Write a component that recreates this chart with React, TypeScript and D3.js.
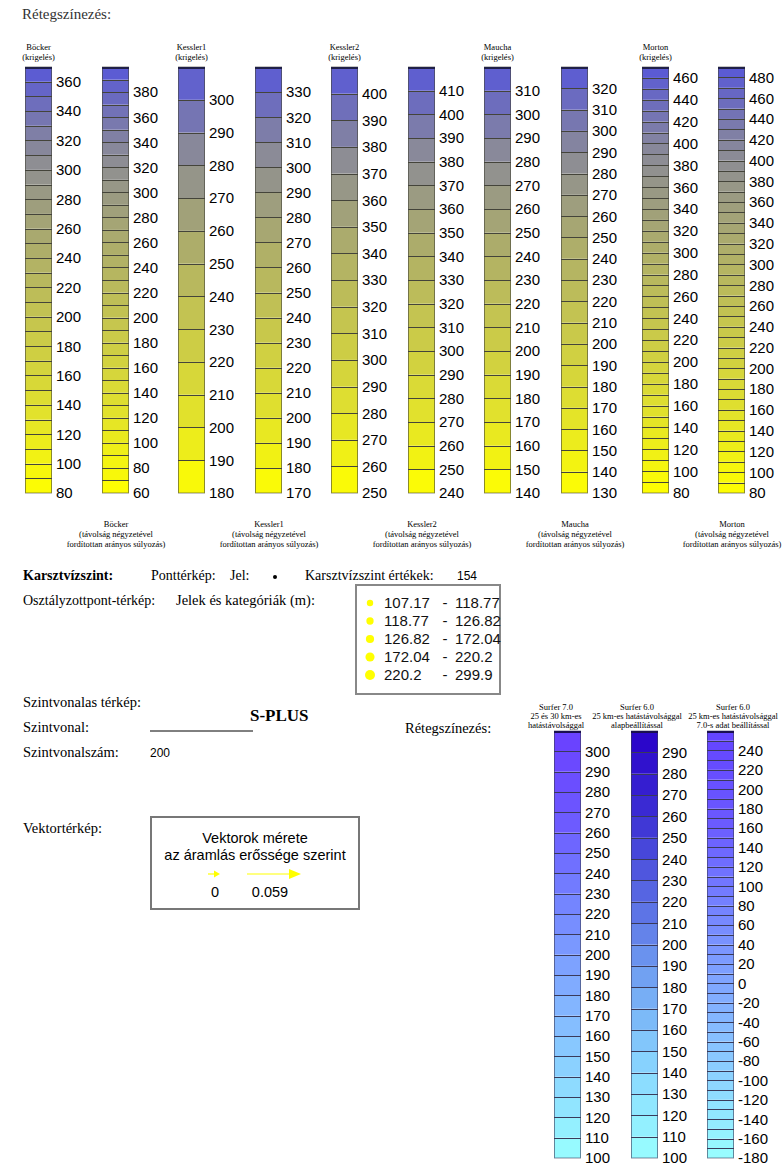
import React from "react";
import * as d3 from "d3";

// ---- Data ----
const topNames = ["Böcker", "Kessler1", "Kessler2", "Maucha", "Morton"];
const krigMin = [80, 180, 250, 140, 80];
const krigMax = [370, 310, 410, 320, 470];
const krigLabelMax = [360, 300, 400, 310, 460];
const krigLabelStep = [20, 10, 10, 10, 20];
const idwMin = [60, 170, 240, 130, 80];
const idwMax = [400, 340, 420, 330, 490];
const idwLabelMax = [380, 330, 410, 320, 480];
const idwLabelStep = [20, 10, 10, 10, 20];
const bandStep = 10;

const surferTitles = [
  ["Surfer 7.0", "25 és 30 km-es", "hatástávolsággal"],
  ["Surfer 6.0", "25 km-es hatástávolsággal", "alapbeállítással"],
  ["Surfer 6.0", "25 km-es hatástávolsággal", "7.0-s adat beállítással"],
];
const surferMin = [100, 100, -180];
const surferMax = [310, 300, 260];
const surferLabelMax = [300, 290, 240];
const surferLabelStep = [10, 10, 20];

const classRanges = [
  ["107.17", "118.77"],
  ["118.77", "126.82"],
  ["126.82", "172.04"],
  ["172.04", "220.2"],
  ["220.2", "299.9"],
];
const vectorValues = ["0", "0.059"];

// ---- Colors ----
const topColors = d3.piecewise(d3.interpolateRgb, ["#ffff00", "#e0e02e", "#c6c64e", "#aaaa6e", "#8a8a98", "#5858d8"]);
const surferColors = [
  d3.piecewise(d3.interpolateRgb, ["#99ffff", "#8cd4ff", "#80acff", "#7484ff", "#6c58ff", "#6a40ff"]),
  d3.piecewise(d3.interpolateRgb, ["#99ffff", "#8ad8ff", "#74a8f4", "#5a6ce4", "#3c30d4", "#2800c8"]),
  d3.piecewise(d3.interpolateRgb, ["#99ffff", "#8cd0ff", "#80a8ff", "#7480ff", "#6a58ff", "#6444ff"]),
];

const SERIF = "'Liberation Serif', 'Times New Roman', serif";
const SANS = "'Liberation Sans', Arial, sans-serif";

type BarProps = {
  x: number; top: number; bottom: number; min: number; max: number;
  labelMax: number; labelStep: number; color: (t: number) => string; lineColor: string; edge: string;
};

function ColorBar({ x, top, bottom, min, max, labelMax, labelStep, color, lineColor, edge }: BarProps) {
  const w = 27;
  const y = d3.scaleLinear().domain([min, max]).range([bottom, top]);
  const bands = d3.range(min, max, bandStep);
  const labels = d3.range(min, labelMax + 0.001, labelStep);
  return (
    <g>
      {bands.map((v) => (
        <rect key={"b" + v} x={x} y={y(v + bandStep)} width={w} height={y(v) - y(v + bandStep)}
          fill={color((v + bandStep / 2 - min) / (max - min))} />
      ))}
      {bands.slice(1).map((v) => (
        <line key={"l" + v} x1={x} x2={x + w} y1={Math.round(y(v)) + 0.5} y2={Math.round(y(v)) + 0.5}
          stroke={lineColor} strokeWidth={1} />
      ))}
      <rect x={x + 0.5} y={top} width={w - 1} height={bottom - top} fill="none" stroke={lineColor} strokeWidth={1} strokeOpacity={0.6} />
      <line x1={x} x2={x + w} y1={top + 1} y2={top + 1} stroke={edge} strokeWidth={2} />
      {labels.map((v) => (
        <text key={"t" + v} x={x + w + 4} y={y(v)} dy="0.36em" fontFamily={SANS} fontSize={15} fill="#000">
          {v}
        </text>
      ))}
    </g>
  );
}

function Lines({ x, y, lines, size, lh }: { x: number; y: number; lines: string[]; size: number; lh: number }) {
  return (
    <text x={x} y={y} textAnchor="middle" fontFamily={SERIF} fontSize={size} fill="#000">
      {lines.map((l, i) => (
        <tspan key={i} x={x} dy={i === 0 ? 0 : lh}>{l}</tspan>
      ))}
    </text>
  );
}

export default function App() {
  const topX = [25, 102, 178, 255, 331, 408, 484, 561, 642, 718];
  const surferX = [554, 631, 707];
  const surferTitleX = [556, 637, 733];
  const ptsY = d3.scaleBand().domain(classRanges.map((_, i) => String(i))).range([594, 684]);
  const dotR = d3.scaleLinear().domain([0, classRanges.length - 1]).range([3.2, 5]);

  return (
    <svg width={783} height={1175} style={{ position: "absolute", left: 0, top: 0, background: "#fff" }}>
      <text x={22} y={19} fontFamily={SERIF} fontSize={15} fill="#333">Rétegszínezés:</text>

      {topNames.map((name, i) => (
        <g key={name}>
          <Lines x={topX[2 * i] + 13.5} y={50} lines={[name, "(krigelés)"]} size={8.5} lh={9.5} />
          <ColorBar x={topX[2 * i]} top={67} bottom={493} min={krigMin[i]} max={krigMax[i]}
            labelMax={krigLabelMax[i]} labelStep={krigLabelStep[i]} color={topColors} lineColor="#44443a" edge="#202048" />
          <ColorBar x={topX[2 * i + 1]} top={67} bottom={493} min={idwMin[i]} max={idwMax[i]}
            labelMax={idwLabelMax[i]} labelStep={idwLabelStep[i]} color={topColors} lineColor="#44443a" edge="#202048" />
          <Lines x={topX[2 * i + 1] + 14} y={527} lines={[name, "(távolság négyzetével", "fordítottan arányos súlyozás)"]} size={8.5} lh={10} />
        </g>
      ))}

      {/* Karsztvízszint */}
      <text x={23} y={580} fontFamily={SERIF} fontSize={14} fontWeight="bold">Karsztvízszint:</text>
      <text x={151} y={580} fontFamily={SERIF} fontSize={14}>Ponttérkép:</text>
      <text x={230} y={580} fontFamily={SERIF} fontSize={14}>Jel:</text>
      <circle cx={275} cy={577} r={2} fill="#000" />
      <text x={305} y={580} fontFamily={SERIF} fontSize={14}>Karsztvízszint értékek:</text>
      <text x={457} y={580} fontFamily={SANS} fontSize={12}>154</text>
      <text x={23} y={605} fontFamily={SERIF} fontSize={14}>Osztályzottpont-térkép:</text>
      <text x={176} y={605} fontFamily={SERIF} fontSize={14.5}>Jelek és kategóriák (m):</text>

      <rect x={356} y={585} width={144} height={109} fill="#fff" stroke="#888" strokeWidth={2} />
      {classRanges.map((r, i) => {
        const cy = (ptsY(String(i)) as number) + ptsY.bandwidth() / 2;
        return (
          <g key={i} fontFamily={SANS} fontSize={15} fill="#111">
            <circle cx={370} cy={cy} r={dotR(i)} fill="#ffff00" />
            <text x={384} y={cy} dy="0.36em">{r[0]}</text>
            <text x={445} y={cy} dy="0.36em" textAnchor="middle">-</text>
            <text x={455} y={cy} dy="0.36em">{r[1]}</text>
          </g>
        );
      })}

      {/* Szintvonalas */}
      <text x={23} y={707} fontFamily={SERIF} fontSize={14.5}>Szintvonalas térkép:</text>
      <text x={23} y={732} fontFamily={SERIF} fontSize={14.5}>Szintvonal:</text>
      <line x1={150} x2={253} y1={731} y2={731} stroke="#000" strokeWidth={1} />
      <text x={250} y={721} fontFamily={SERIF} fontSize={17} fontWeight="bold">S-PLUS</text>
      <text x={23} y={757} fontFamily={SERIF} fontSize={14.5}>Szintvonalszám:</text>
      <text x={150} y={757} fontFamily={SANS} fontSize={12}>200</text>
      <text x={405} y={733} fontFamily={SERIF} fontSize={14.5}>Rétegszínezés:</text>

      {/* Vektortérkép */}
      <text x={23} y={833} fontFamily={SERIF} fontSize={14.5}>Vektortérkép:</text>
      <rect x={151} y={817} width={208} height={92} fill="#fff" stroke="#777" strokeWidth={2} />
      <text x={255} y={843} textAnchor="middle" fontFamily={SANS} fontSize={14.5}>Vektorok mérete</text>
      <text x={255} y={860} textAnchor="middle" fontFamily={SANS} fontSize={14.5}>az áramlás erőssége szerint</text>
      <line x1={208} x2={215} y1={874} y2={874} stroke="#ffff00" strokeWidth={1.2} />
      <path d="M214,870.5 L220,874 L214,877.5 Z" fill="#ffff00" />
      <line x1={247} x2={290} y1={874} y2={874} stroke="#ffff00" strokeWidth={1.2} />
      <path d="M289,869 L301,874 L289,879 Z" fill="#ffff00" />
      <text x={215} y={897} textAnchor="middle" fontFamily={SANS} fontSize={14.5}>{vectorValues[0]}</text>
      <text x={270} y={897} textAnchor="middle" fontFamily={SANS} fontSize={14.5}>{vectorValues[1]}</text>

      {/* Surfer bars */}
      {surferTitles.map((t, i) => (
        <g key={i}>
          <Lines x={surferTitleX[i]} y={710} lines={t} size={8.5} lh={8.8} />
          <ColorBar x={surferX[i]} top={731} bottom={1158} min={surferMin[i]} max={surferMax[i]}
            labelMax={surferLabelMax[i]} labelStep={surferLabelStep[i]} color={surferColors[i]} lineColor="#3a3a5a" edge="#1a1050" />
        </g>
      ))}
    </svg>
  );
}
